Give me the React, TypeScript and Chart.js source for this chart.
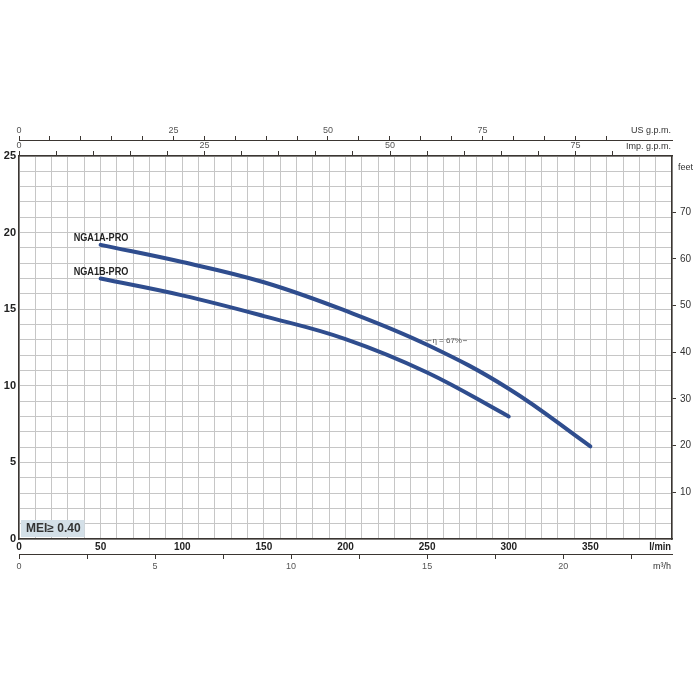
import { useEffect, useRef } from "react";
import { Chart, registerables } from "chart.js";

Chart.register(...registerables);

// Flow (l/min) and head (m)
const flowA = [50, 100, 150, 200, 250, 300, 350];
const headA = [19.2, 18.08, 16.76, 14.9, 12.68, 9.81, 6.05];
const flowB = [50, 100, 150, 200, 250, 300];
const headB = [17.0, 15.9, 14.55, 13.05, 10.87, 8.0];
const seriesNames = ["NGA1A-PRO", "NGA1B-PRO"];

// Axis ranges / tick labels
const X_MAX = 400; // l/min
const Y_MAX = 25; // m
const xLabelTicks = [0, 50, 100, 150, 200, 250, 300, 350];
const yLabelTicks = [0, 5, 10, 15, 20, 25];
const feetLabelTicks = [10, 20, 30, 40, 50, 60, 70];
const usLabelTicks = [0, 25, 50, 75];
const impLabelTicks = [0, 25, 50, 75];
const m3hLabelTicks = [0, 5, 10, 15, 20];
const etaText = "η = 67%";
const etaAt = [252, 12.95];
const meiText = "MEI≥ 0.40";

const LPM_PER_USGPM = 3.78541;
const LPM_PER_IMPGPM = 4.54609;
const LPM_PER_M3H = 1000 / 60;
const M_PER_FT = 0.3048;

const FONT = '"Liberation Sans", Arial, sans-serif';
const CURVE = "#2f4d8e";
const GRID = "#c6c6c6";
const AXIS = "#3b3632";

const near = (v: number, list: number[]) => list.some((t) => Math.abs(t - v) < 1e-6);

const fix = (w?: number, h?: number) => (scale: any) => {
  if (w !== undefined) scale.width = w;
  if (h !== undefined) scale.height = h;
  scale.paddingLeft = 0;
  scale.paddingRight = 0;
  scale.paddingTop = 0;
  scale.paddingBottom = 0;
};

const narrowText = (ctx: any, text: string, x: number, y: number, sx: number) => {
  ctx.save();
  ctx.translate(x, y);
  ctx.scale(sx, 1);
  ctx.fillText(text, 0, 0);
  ctx.restore();
};

const annotations = {
  id: "annotations",
  afterDraw(chart: any) {
    const ctx = chart.ctx;
    const xs = chart.scales.x;
    const ys = chart.scales.y;
    const area = chart.chartArea;
    ctx.save();
    ctx.fillStyle = "#333";
    ctx.textBaseline = "middle";

    // top axis titles
    ctx.font = `9px ${FONT}`;
    ctx.textAlign = "right";
    ctx.fillText("US g.p.m.", area.right - 1, chart.scales.xUS.bottom - 9);
    ctx.fillText("Imp. g.p.m.", area.right - 1, chart.scales.xImp.bottom - 9);
    // bottom axis titles
    ctx.font = `bold 11px ${FONT}`;
    ctx.fillStyle = "#222";
    ctx.textAlign = "left";
    const lw = ctx.measureText("l/min").width * 0.85;
    narrowText(ctx, "l/min", area.right - 1 - lw, area.bottom + 8, 0.85);
    ctx.font = `9px ${FONT}`;
    ctx.fillStyle = "#333";
    ctx.textAlign = "right";
    ctx.fillText("m³/h", area.right - 1, chart.scales.xM3.top + 13);
    // feet title
    ctx.textAlign = "left";
    ctx.font = `9px ${FONT}`;
    ctx.fillText("feet", area.right + 6, area.top + 12);

    // series labels
    ctx.font = `bold 11px ${FONT}`;
    ctx.fillStyle = "#222";
    const starts = [
      [flowA[0], headA[0]],
      [flowB[0], headB[0]],
    ];
    starts.forEach((p, i) => {
      const px = xs.getPixelForValue(p[0]);
      const py = ys.getPixelForValue(p[1]);
      narrowText(ctx, seriesNames[i], px - 27, py - 7, 0.83);
    });

    // efficiency label
    const ex = xs.getPixelForValue(etaAt[0]);
    const ey = ys.getPixelForValue(etaAt[1]);
    ctx.strokeStyle = "#888";
    ctx.lineWidth = 1;
    ctx.beginPath();
    ctx.moveTo(ex - 5, ey);
    ctx.lineTo(ex + 1, ey);
    ctx.stroke();
    ctx.font = `8px ${FONT}`;
    ctx.fillStyle = "#555";
    ctx.fillText(etaText, ex + 2, ey);
    const tw = ctx.measureText(etaText).width;
    ctx.beginPath();
    ctx.moveTo(ex + 3 + tw, ey);
    ctx.lineTo(ex + 7 + tw, ey);
    ctx.stroke();

    // MEI box
    ctx.font = `bold 12px ${FONT}`;
    const mw = ctx.measureText(meiText).width;
    const bx = area.left + 2;
    const by = area.bottom - 19;
    ctx.fillStyle = "#d4e0e8";
    ctx.fillRect(bx, by, mw + 9, 17);
    ctx.fillStyle = "#333";
    ctx.fillText(meiText, bx + 5, by + 9);
    ctx.restore();
  },
};

export default function App() {
  const ref = useRef<HTMLCanvasElement | null>(null);

  useEffect(() => {
    if (!ref.current) return;
    const common = { bounds: "data" as const };
    const curveDs = (label: string, flows: number[], heads: number[]) => ({
      label,
      data: flows.map((q, i) => ({ x: q, y: heads[i] })),
      borderColor: CURVE,
      borderWidth: 4,
      pointRadius: 0,
      tension: 0.4,
      borderCapStyle: "round",
      xAxisID: "x",
      yAxisID: "y",
    });
    const chart = new Chart(ref.current, {
      type: "line",
      data: {
        datasets: [
          curveDs(seriesNames[0], flowA, headA),
          curveDs(seriesNames[1], flowB, headB),
        ],
      },
      options: {
        animation: false,
        responsive: false,
        devicePixelRatio: 1,
        events: [],
        layout: { padding: { top: 120, bottom: 126, left: 0, right: 0 } },
        plugins: { legend: { display: false }, tooltip: { enabled: false } },
        scales: {
          x: {
            ...common,
            type: "linear",
            position: "bottom",
            weight: 0,
            min: 0,
            max: X_MAX,
            afterFit: fix(undefined, 15),
            border: { display: true, color: AXIS, width: 1.5 },
            grid: { color: GRID, lineWidth: 1, drawTicks: false },
            ticks: {
              stepSize: 10,
              includeBounds: false,
              autoSkip: false,
              maxRotation: 0,
              padding: 2,
              color: "#222",
              font: { family: FONT, size: 10, weight: "bold" },
              callback: (v: any) => (near(Number(v), xLabelTicks) ? String(v) : ""),
            },
          },
          xM3: {
            ...common,
            type: "linear",
            position: "bottom",
            weight: 1,
            min: 0,
            max: X_MAX / LPM_PER_M3H,
            afterFit: fix(undefined, 20),
            border: { display: true, color: AXIS, width: 1 },
            grid: { drawOnChartArea: false, tickLength: 5, tickColor: AXIS, color: AXIS },
            ticks: {
              stepSize: 2.5,
              includeBounds: false,
              autoSkip: false,
              maxRotation: 0,
              padding: 2,
              color: "#555",
              font: { family: FONT, size: 9 },
              callback: (v: any) => {
                const n = Number(v);
                if (n > 22.6) return null;
                return near(n, m3hLabelTicks) ? String(n) : "";
              },
            },
          },
          xImp: {
            ...common,
            type: "linear",
            position: "top",
            weight: 0,
            min: 0,
            max: X_MAX / LPM_PER_IMPGPM,
            afterFit: fix(undefined, 16),
            border: { display: true, color: AXIS, width: 1.5 },
            grid: { drawOnChartArea: false, tickLength: 5, tickColor: AXIS, color: AXIS },
            ticks: {
              stepSize: 5,
              includeBounds: false,
              autoSkip: false,
              maxRotation: 0,
              padding: 0,
              color: "#555",
              font: { family: FONT, size: 9 },
              callback: (v: any) => {
                const n = Number(v);
                if (n > 80.5) return null;
                return near(n, impLabelTicks) ? String(n) : "";
              },
            },
          },
          xUS: {
            ...common,
            type: "linear",
            position: "top",
            weight: 1,
            min: 0,
            max: X_MAX / LPM_PER_USGPM,
            afterFit: fix(undefined, 20),
            border: { display: true, color: AXIS, width: 1 },
            grid: { drawOnChartArea: false, tickLength: 4, tickColor: AXIS, color: AXIS },
            ticks: {
              stepSize: 5,
              includeBounds: false,
              autoSkip: false,
              maxRotation: 0,
              padding: 0,
              color: "#555",
              font: { family: FONT, size: 9 },
              callback: (v: any) => {
                const n = Number(v);
                if (n > 95.5) return null;
                return near(n, usLabelTicks) ? String(n) : "";
              },
            },
          },
          y: {
            ...common,
            type: "linear",
            position: "left",
            min: 0,
            max: Y_MAX,
            afterFit: fix(19, undefined),
            border: { display: true, color: AXIS, width: 1.5 },
            grid: { color: GRID, lineWidth: 1, drawTicks: false },
            ticks: {
              stepSize: 1,
              includeBounds: false,
              autoSkip: false,
              padding: 3,
              color: "#222",
              font: { family: FONT, size: 11, weight: "bold" },
              callback: (v: any) => (near(Number(v), yLabelTicks) ? String(v) : ""),
            },
          },
          yFeet: {
            ...common,
            type: "linear",
            position: "right",
            min: 0,
            max: Y_MAX / M_PER_FT,
            afterFit: fix(28, undefined),
            border: { display: true, color: AXIS, width: 1.5 },
            grid: { drawOnChartArea: false, tickLength: 4, tickColor: AXIS, color: AXIS },
            ticks: {
              stepSize: 10,
              includeBounds: false,
              autoSkip: false,
              padding: 4,
              color: "#333",
              font: { family: FONT, size: 10 },
              callback: (v: any) => (near(Number(v), feetLabelTicks) ? String(v) : null),
            },
          },
        },
      } as any,
      plugins: [annotations],
    });
    return () => chart.destroy();
  }, []);

  return (
    <div style={{ position: "absolute", left: 0, top: 0, width: 700, height: 700, background: "#fff" }}>
      <canvas ref={ref} width={700} height={700} />
    </div>
  );
}
